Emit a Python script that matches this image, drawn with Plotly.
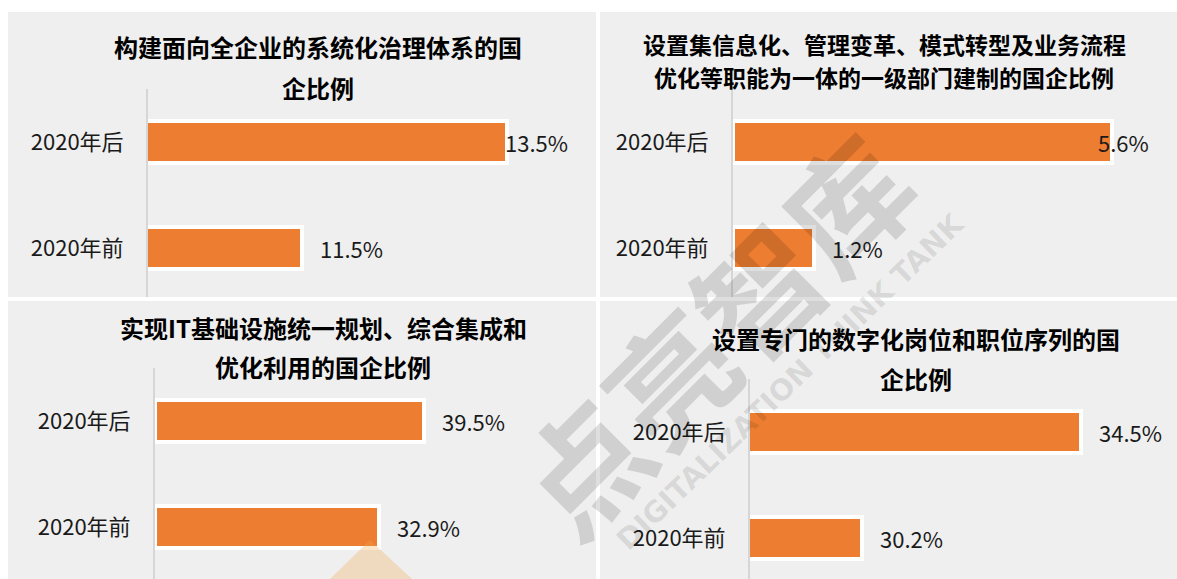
import plotly.graph_objects as go

# ---------------- data ----------------
categories = ["2020年前", "2020年后"]
titles = [
    ["构建面向全企业的系统化治理体系的国", "企比例"],
    ["设置集信息化、管理变革、模式转型及业务流程", "优化等职能为一体的一级部门建制的国企比例"],
    ["实现IT基础设施统一规划、综合集成和", "优化利用的国企比例"],
    ["设置专门的数字化岗位和职位序列的国", "企比例"],
]
values_p1 = [11.5, 13.5]
values_p2 = [1.2, 5.6]
values_p3 = [32.9, 39.5]
values_p4 = [30.2, 34.5]
all_values = [values_p1, values_p2, values_p3, values_p4]
axis_ranges = [[10, 14], [0, 6], [0, 50], [28, 36]]

# ---------------- layout helpers (pixels) ----------------
W, H = 1177, 579
def px(x):
    return x / W
def py(y):
    return 1 - y / H

ORANGE = "#ED7D31"
BG = "#EFEFEF"
FONT = "Noto Sans CJK SC"
TXT = "#1a1a1a"

panels = [
    dict(x0=148, x1=558, ytop=89, ybot=297),
    dict(x0=733, x1=1139, ytop=89, ybot=297),
    dict(x0=155, x1=495, ytop=368, ybot=579),
    dict(x0=750, x1=1157, ytop=379, ybot=579),
]
title_pos = [
    dict(cx=318, lines_y=[47, 88], size=24),
    dict(cx=884, lines_y=[44, 77], size=23),
    dict(cx=323, lines_y=[327, 366], size=24),
    dict(cx=916, lines_y=[338, 378], size=24),
]
label_shift = {(0, 1): -4, (1, 1): -16}
STEP = 106.0

fig = go.Figure()
layout_axes = {}
annotations = []
for i, (vals, rng, p) in enumerate(zip(all_values, axis_ranges, panels)):
    k = "" if i == 0 else str(i + 1)
    xa, ya = "x" + k, "y" + k
    fig.add_trace(go.Bar(
        x=vals, y=categories, orientation="h",
        marker=dict(color=ORANGE, line=dict(color="white", width=4)),
        width=42 / STEP, xaxis=xa, yaxis=ya, showlegend=False,
        hoverinfo="skip",
    ))
    span = (p["ybot"] - p["ytop"]) / STEP
    layout_axes["xaxis" + k] = dict(
        domain=[px(p["x0"]), px(p["x1"])], range=rng, anchor=ya,
        showgrid=False, zeroline=False, showticklabels=False, showline=False,
        fixedrange=True,
    )
    layout_axes["yaxis" + k] = dict(
        domain=[py(p["ybot"]), py(p["ytop"])], range=[1.5 - span, 1.5],
        anchor=xa, type="category", categoryorder="array", categoryarray=categories,
        showgrid=False, zeroline=False, showline=True, linecolor="#d6d6d6", linewidth=2,
        ticks="outside", ticklen=18, tickcolor="rgba(0,0,0,0)",
        tickfont=dict(family=FONT, size=22, color=TXT), fixedrange=True,
    )
    for j, (c, v) in enumerate(zip(categories, vals)):
        annotations.append(dict(
            x=v, y=c, xref=xa, yref=ya, text=f"{v:.1f}%", showarrow=False,
            xanchor="left", yanchor="middle", xshift=label_shift.get((i, j), 16),
            font=dict(family=FONT, size=22, color=TXT),
        ))
    tp = title_pos[i]
    for line, ly in zip(titles[i], tp["lines_y"]):
        annotations.append(dict(
            x=px(tp["cx"]), y=py(ly), xref="paper", yref="paper", text=f"<b>{line}</b>",
            showarrow=False, xanchor="center", yanchor="middle", borderpad=0,
            font=dict(family=FONT, size=tp["size"], color="#000000"),
        ))

# watermark
annotations.append(dict(
    x=px(712), y=py(332), xref="paper", yref="paper", text="<b>点亮智库</b>",
    showarrow=False, textangle=-45, xanchor="center", yanchor="middle",
    font=dict(family=FONT, size=124, color="rgba(0,0,0,0.13)"),
))
annotations.append(dict(
    x=px(790), y=py(382), xref="paper", yref="paper", text="<b>DIGITALIZATION THINK TANK</b>",
    showarrow=False, textangle=-44, xanchor="center", yanchor="middle",
    font=dict(family="DejaVu Sans", size=29, color="rgba(0,0,0,0.10)"),
))

shapes = []
for (x0, y0, x1, y1) in [(8, 12, 596, 297), (600, 12, W, 297), (8, 301, 596, H), (600, 301, W, H)]:
    shapes.append(dict(type="rect", xref="paper", yref="paper", x0=px(x0), x1=px(x1),
                       y0=py(y1), y1=py(y0), fillcolor=BG, line=dict(width=0), layer="below"))
shapes.append(dict(type="path", xref="paper", yref="paper",
                   path=f"M {px(330)} {py(579)} L {px(370)} {py(540)} L {px(412)} {py(579)} Z",
                   fillcolor="rgba(240,170,80,0.3)", line=dict(width=0), layer="above"))

fig.update_layout(
    width=W, height=H, autosize=False,
    margin=dict(l=0, r=0, t=0, b=0),
    paper_bgcolor="white", plot_bgcolor="rgba(0,0,0,0)",
    annotations=annotations, shapes=shapes, bargap=0,
    **layout_axes,
)
fig.write_html(
    "out.html",
    config={"displayModeBar": False},
    post_script="document.body.style.margin='0';document.body.style.overflow='hidden';",
)
